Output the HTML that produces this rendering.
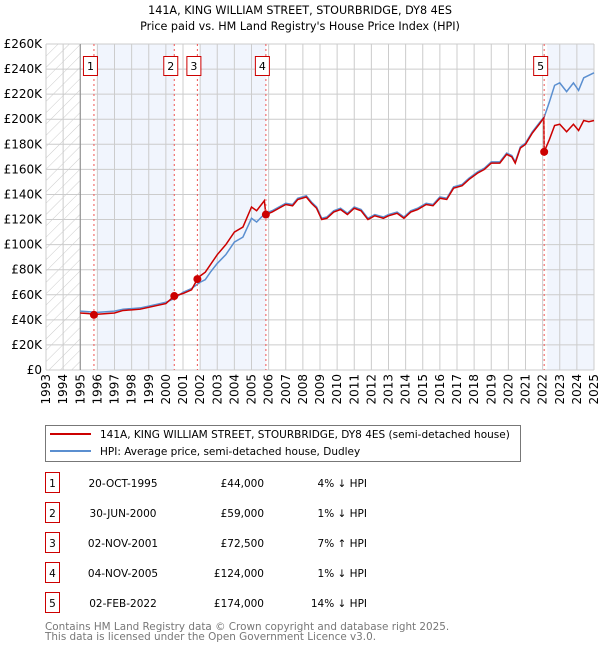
<!DOCTYPE html>
<html><head><meta charset="utf-8">
<style>
body{margin:0;background:#fff;width:600px;height:650px;overflow:hidden;font-family:"DejaVu Sans","Liberation Sans",sans-serif;}
svg text{font-family:"DejaVu Sans","Liberation Sans",sans-serif;}
</style></head>
<body>
<svg id="chart" width="600" height="650" viewBox="0 0 600 650">
<defs>
<pattern id="hatch" width="8" height="8" patternUnits="userSpaceOnUse" patternTransform="rotate(45)">
<line x1="0" y1="0" x2="0" y2="8" stroke="#ccc" stroke-width="1"/>
</pattern>
</defs>
<text x="300" y="14" text-anchor="middle" font-size="11.2" fill="#000">141A, KING WILLIAM STREET, STOURBRIDGE, DY8 4ES</text>
<text x="300" y="30" text-anchor="middle" font-size="11.2" fill="#000">Price paid vs. HM Land Registry's House Price Index (HPI)</text>
<g id="bands"></g>
<g id="grid"></g>
<g id="axes"></g>
<g id="series"></g>
<g id="markers"></g>

<g>
<rect x="45.5" y="425.5" width="475" height="36" fill="#fff" stroke="#777"/>
<line x1="50" y1="434" x2="91" y2="434" stroke="#cc0000" stroke-width="2"/>
<text x="100" y="438" font-size="10.5">141A, KING WILLIAM STREET, STOURBRIDGE, DY8 4ES (semi-detached house)</text>
<line x1="50" y1="451" x2="91" y2="451" stroke="#5b8fd0" stroke-width="2"/>
<text x="100" y="455" font-size="10.5">HPI: Average price, semi-detached house, Dudley</text>
</g>
<g id="table"></g>
<text x="45" y="630" font-size="10.4" fill="#777">Contains HM Land Registry data © Crown copyright and database right 2025.</text>
<text x="45" y="640" font-size="10.4" fill="#777">This data is licensed under the Open Government Licence v3.0.</text>
</svg>
<script>
const hpiDates=[1995.0,1995.5,1996,1996.5,1997,1997.5,1998,1998.5,1999,1999.5,2000,2000.5,2001,2001.5,2002,2002.3,2002.6,2003,2003.5,2004,2004.5,2005,2005.3,2005.8,2006.2,2006.6,2007,2007.4,2007.7,2008.2,2008.5,2008.8,2009.1,2009.4,2009.8,2010.2,2010.6,2011,2011.4,2011.8,2012.2,2012.7,2013,2013.5,2013.9,2014.3,2014.7,2015.2,2015.6,2016,2016.4,2016.8,2017.3,2017.7,2018.2,2018.6,2019,2019.5,2019.9,2020.2,2020.4,2020.7,2021,2021.4,2021.8,2022.1,2022.4,2022.7,2023,2023.4,2023.8,2024.1,2024.4,2024.7,2025];
const hpiValues=[47,46.5,46,46.5,47,48.5,49,49.5,51,52.5,54,57,62,65,70,72,78,85,92,102,106,121,118,125,127,130,133,132,137,139,134,130,121,122,127,129,125,130,128,121,124,122,124,126,122,127,129,133,132,138,137,146,148,153,158,161,166,166,173,171,166,178,181,190,197,202,214,227,229,222,229,223,233,235,237];
const priceDates=[1995.0,1995.5,1995.8,1996,1996.5,1997,1997.5,1998,1998.5,1999,1999.5,2000,2000.49,2001,2001.5,2001.84,2002,2002.3,2002.6,2003,2003.5,2004,2004.5,2005,2005.3,2005.75,2005.84,2006.2,2006.6,2007,2007.4,2007.7,2008.2,2008.5,2008.8,2009.1,2009.4,2009.8,2010.2,2010.6,2011,2011.4,2011.8,2012.2,2012.7,2013,2013.5,2013.9,2014.3,2014.7,2015.2,2015.6,2016,2016.4,2016.8,2017.3,2017.7,2018.2,2018.6,2019,2019.5,2019.9,2020.2,2020.4,2020.7,2021,2021.4,2021.8,2022.07,2022.09,2022.4,2022.7,2023,2023.4,2023.8,2024.1,2024.4,2024.7,2025];
const priceValues=[45.5,45,44,44.5,45,45.5,47.5,48,48.5,50,51.5,53,59,61,64,72.5,75,78,84,92,100,110,114,130,127,135,124,126,129,132,131,136,138,133,129,120,121,126,128,124,129,127,120,123,121,123,125,121,126,128,132,131,137,136,145,147,152,157,160,165,165,172,170,165,177,180,189,196,201,174,184,195,196,190,196,191,199,198,199];
const saleDates=[1995.8,2000.49,2001.84,2005.84,2022.09];
const salePrices=[44,59,72.5,124,174];
const saleLabels=["1","2","3","4","5"];
const saleDateText=["20-OCT-1995","30-JUN-2000","02-NOV-2001","04-NOV-2005","02-FEB-2022"];
const salePriceText=["£44,000","£59,000","£72,500","£124,000","£174,000"];
const saleHpiText=["4% ↓ HPI","1% ↓ HPI","7% ↑ HPI","1% ↓ HPI","14% ↓ HPI"];
const yTicks=[0,20,40,60,80,100,120,140,160,180,200,220,240,260];
const yTickLabels=["£0","£20K","£40K","£60K","£80K","£100K","£120K","£140K","£160K","£180K","£200K","£220K","£240K","£260K"];
const xTicks=[1993,1994,1995,1996,1997,1998,1999,2000,2001,2002,2003,2004,2005,2006,2007,2008,2009,2010,2011,2012,2013,2014,2015,2016,2017,2018,2019,2020,2021,2022,2023,2024,2025];

const NS="http://www.w3.org/2000/svg";
const X0=46,X1=594,Y0=370,Y1=44;
const xs=d=>X0+(d-1993)/(2025-1993)*(X1-X0);
const ys=v=>Y0-v/260*(Y0-Y1);
function mk(tag,attrs,parent){const e=document.createElementNS(NS,tag);for(const k in attrs)e.setAttribute(k,attrs[k]);parent.appendChild(e);return e;}
const bands=document.getElementById('bands'),grid=document.getElementById('grid'),axes=document.getElementById('axes'),series=document.getElementById('series'),markers=document.getElementById('markers'),table=document.getElementById('table');

let h=mk('rect',{x:X0,y:Y1,width:xs(1995)-X0,height:Y0-Y1,fill:'url(#hatch)'},bands);


const bandPairs=[[saleDates[0],saleDates[1]],[saleDates[2],saleDates[3]],[saleDates[4],2025]];
bandPairs.forEach((p,i)=>{
 const r=mk('rect',{x:xs(p[0])+3,y:Y1,width:xs(p[1])-xs(p[0])-3,height:Y0-Y1,fill:'#eef3fc',opacity:0.8},bands);
 
 
});
yTicks.forEach((v,i)=>{
 const l=mk('line',{x1:X0,x2:X1,y1:ys(v),y2:ys(v),stroke:'#ccc','stroke-width':1},grid);
 
 
 const t=mk('text',{x:X0-4,y:ys(v)+4,'text-anchor':'end','font-size':12,fill:'#000'},axes);
 t.textContent=yTickLabels[i];
 
 
});
xTicks.forEach(d=>{
 const l=mk('line',{x1:xs(d),x2:xs(d),y1:Y1,y2:Y0,stroke:'#ccc','stroke-width':1},grid);
 
 
 const t=mk('text',{x:xs(d)+4,y:Y0+4,'text-anchor':'end','font-size':12,fill:'#000',transform:`rotate(-90 ${xs(d)+4} ${Y0+4})`},axes);
 t.textContent=d;
 
 
});
let ax=mk('line',{x1:xs(1995),x2:xs(1995),y1:Y1,y2:Y0,stroke:'#888'},axes);


const hp=mk('polyline',{points:hpiDates.map((d,i)=>xs(d)+','+ys(hpiValues[i])).join(' '),fill:'none',stroke:'#5b8fd0','stroke-width':1.5},series);


const pp=mk('polyline',{points:priceDates.map((d,i)=>xs(d)+','+ys(priceValues[i])).join(' '),fill:'none',stroke:'#cc0000','stroke-width':1.5},series);


saleDates.forEach((d,i)=>{
 const l=mk('line',{x1:xs(d),x2:xs(d),y1:Y1,y2:Y0,stroke:'#e55','stroke-width':1,'stroke-dasharray':'2,3'},markers);
 
 
 const c=mk('circle',{cx:xs(d),cy:ys(salePrices[i]),r:4,fill:'#cc0000'},markers);
 
 
 const b=mk('rect',{x:xs(d)-10.5,y:56.5,width:14,height:19,fill:'#fff',stroke:'#cc0000'},markers);
 
 
 const t=mk('text',{x:xs(d)-3.5,y:70,'text-anchor':'middle','font-size':11},markers);
 t.textContent=saleLabels[i];
 
 
});
saleLabels.forEach((s,i)=>{
 const cy=483+i*30;
 const b=mk('rect',{x:45.5,y:cy-10.5,width:14,height:20,fill:'#fff',stroke:'#cc0000'},table);
 
 
 const n=mk('text',{x:52.5,y:cy+4,'text-anchor':'middle','font-size':10.5},table);
 n.textContent=s;
 
 
 const dt=mk('text',{x:123,y:cy+4,'text-anchor':'middle','font-size':10.5},table);
 dt.textContent=saleDateText[i];
 
 
 const pr=mk('text',{x:264,y:cy+4,'text-anchor':'end','font-size':10.5},table);
 pr.textContent=salePriceText[i];
 
 
 const hh=mk('text',{x:367,y:cy+4,'text-anchor':'end','font-size':10.5},table);
 hh.textContent=saleHpiText[i];
 
 
});
</script>
</body></html>
